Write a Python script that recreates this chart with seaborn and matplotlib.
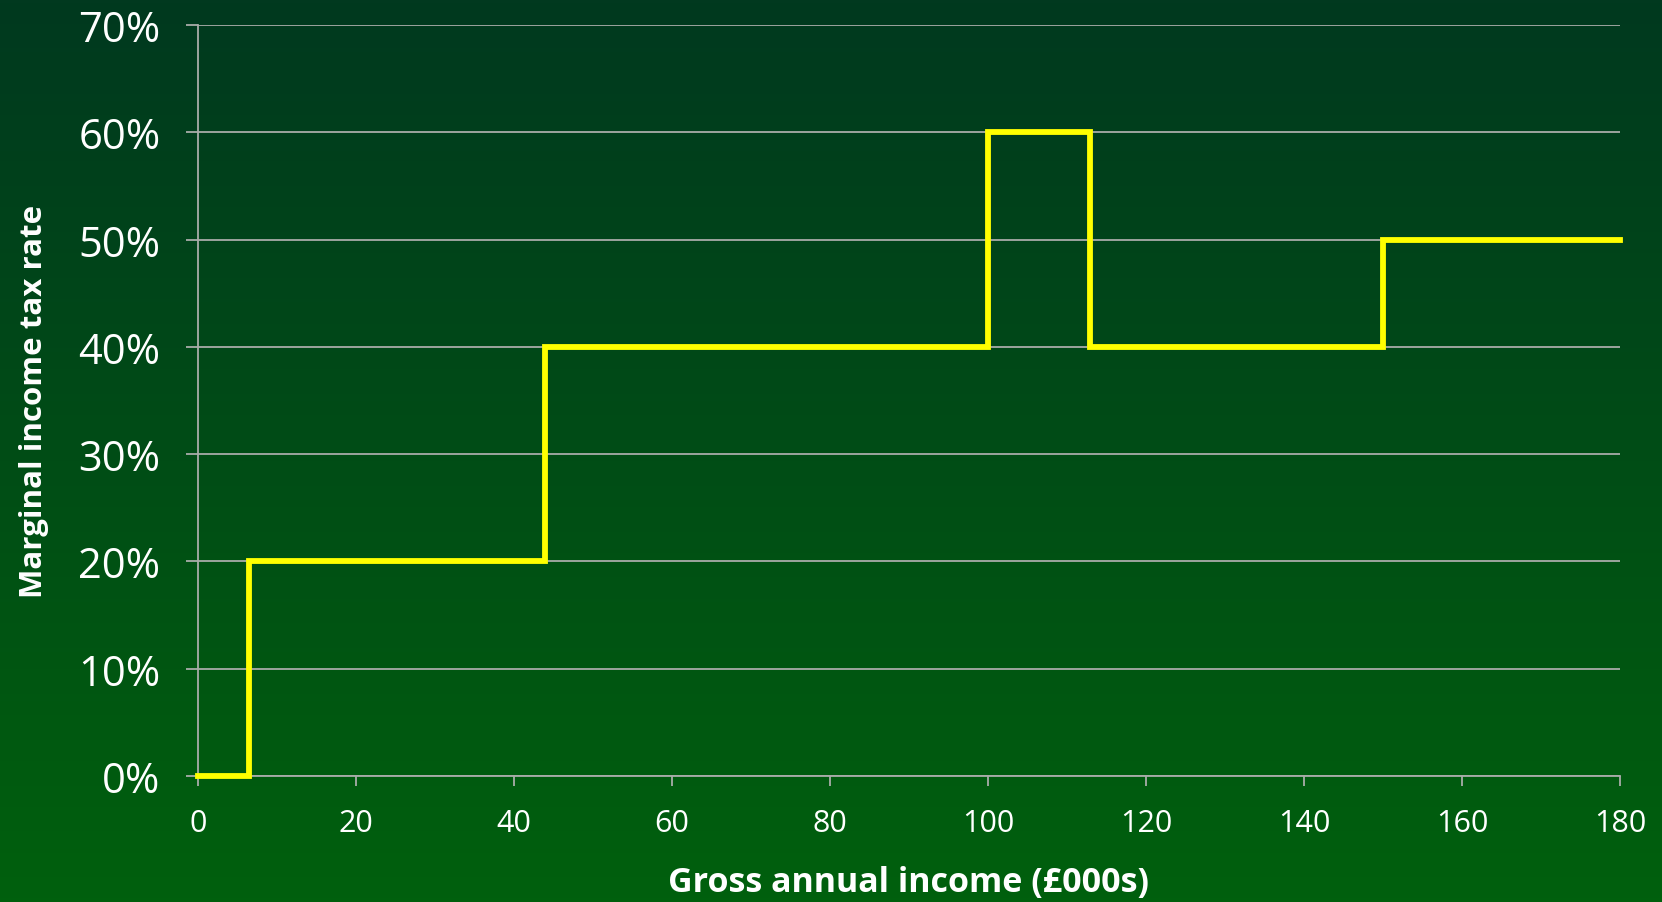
import numpy as np
import matplotlib
matplotlib.use("Agg")
import matplotlib.pyplot as plt
import seaborn as sns

# Marginal income tax schedule: rate applies from each threshold up to the next
income_thresholds = [0, 6.475, 43.875, 100, 112.95, 150, 180]   # £000s
marginal_rates = [0, 20, 40, 60, 40, 50, 50]                     # percent
x_ticks = [0, 20, 40, 60, 80, 100, 120, 140, 160, 180]
y_ticks = [0, 10, 20, 30, 40, 50, 60, 70]
y_tick_labels = [f"{v}%" for v in y_ticks]

sns.set_theme(style="white")
plt.rcParams["font.family"] = ["Open Sans", "DejaVu Sans"]

W, H, DPI = 1662, 903, 100
fig = plt.figure(figsize=(W / DPI, H / DPI), dpi=DPI)

# vertical green gradient background
bg = fig.add_axes([0, 0, 1, 1], zorder=0)
top = np.array([1, 57, 31]) / 255.0
bottom = np.array([0, 96, 13]) / 255.0
t = np.linspace(0, 1, 256)[:, None]
grad = top[None, :] * (1 - t) + bottom[None, :] * t
bg.imshow(grad[:, None, :], aspect="auto", extent=[0, 1, 0, 1], origin="upper")
bg.set_axis_off()

ax = fig.add_axes([198 / W, 1 - 777 / H, (1620 - 198) / W, (777 - 26) / H], zorder=1)
ax.set_facecolor("none")

grid_col = "#a9aca9"
sns.lineplot(x=income_thresholds, y=marginal_rates, drawstyle="steps-post",
             color="#ffff00", linewidth=4.2, clip_on=False, zorder=5,
             solid_joinstyle="miter", solid_capstyle="projecting",
             sort=False, ax=ax)

ax.set_xlim(0, 180)
ax.set_ylim(0, 70)
ax.set_xticks(x_ticks)
ax.set_yticks(y_ticks)
ax.set_yticklabels(y_tick_labels)

ax.yaxis.grid(True, color=grid_col, linewidth=1.3)
ax.xaxis.grid(False)
for side in ["top", "right"]:
    ax.spines[side].set_visible(False)
for side in ["left", "bottom"]:
    ax.spines[side].set_color(grid_col)
    ax.spines[side].set_linewidth(1.3)

ax.tick_params(axis="y", length=9, width=1.3, color=grid_col, pad=18,
               labelsize=30, labelcolor="white", left=True)
ax.tick_params(axis="x", length=7, width=1.3, color=grid_col, pad=16,
               labelsize=22, labelcolor="white", bottom=True)

ax.set_xlabel("Gross annual income (£000s)", color="white", fontsize=24.5,
              fontweight="bold")
ax.set_ylabel("Marginal income tax rate", color="white", fontsize=22.5,
              fontweight="bold")
ax.xaxis.set_label_coords(0.5, -0.119)
ax.yaxis.set_label_coords(-0.105, 0.5)

fig.savefig("out.png", dpi=DPI)
